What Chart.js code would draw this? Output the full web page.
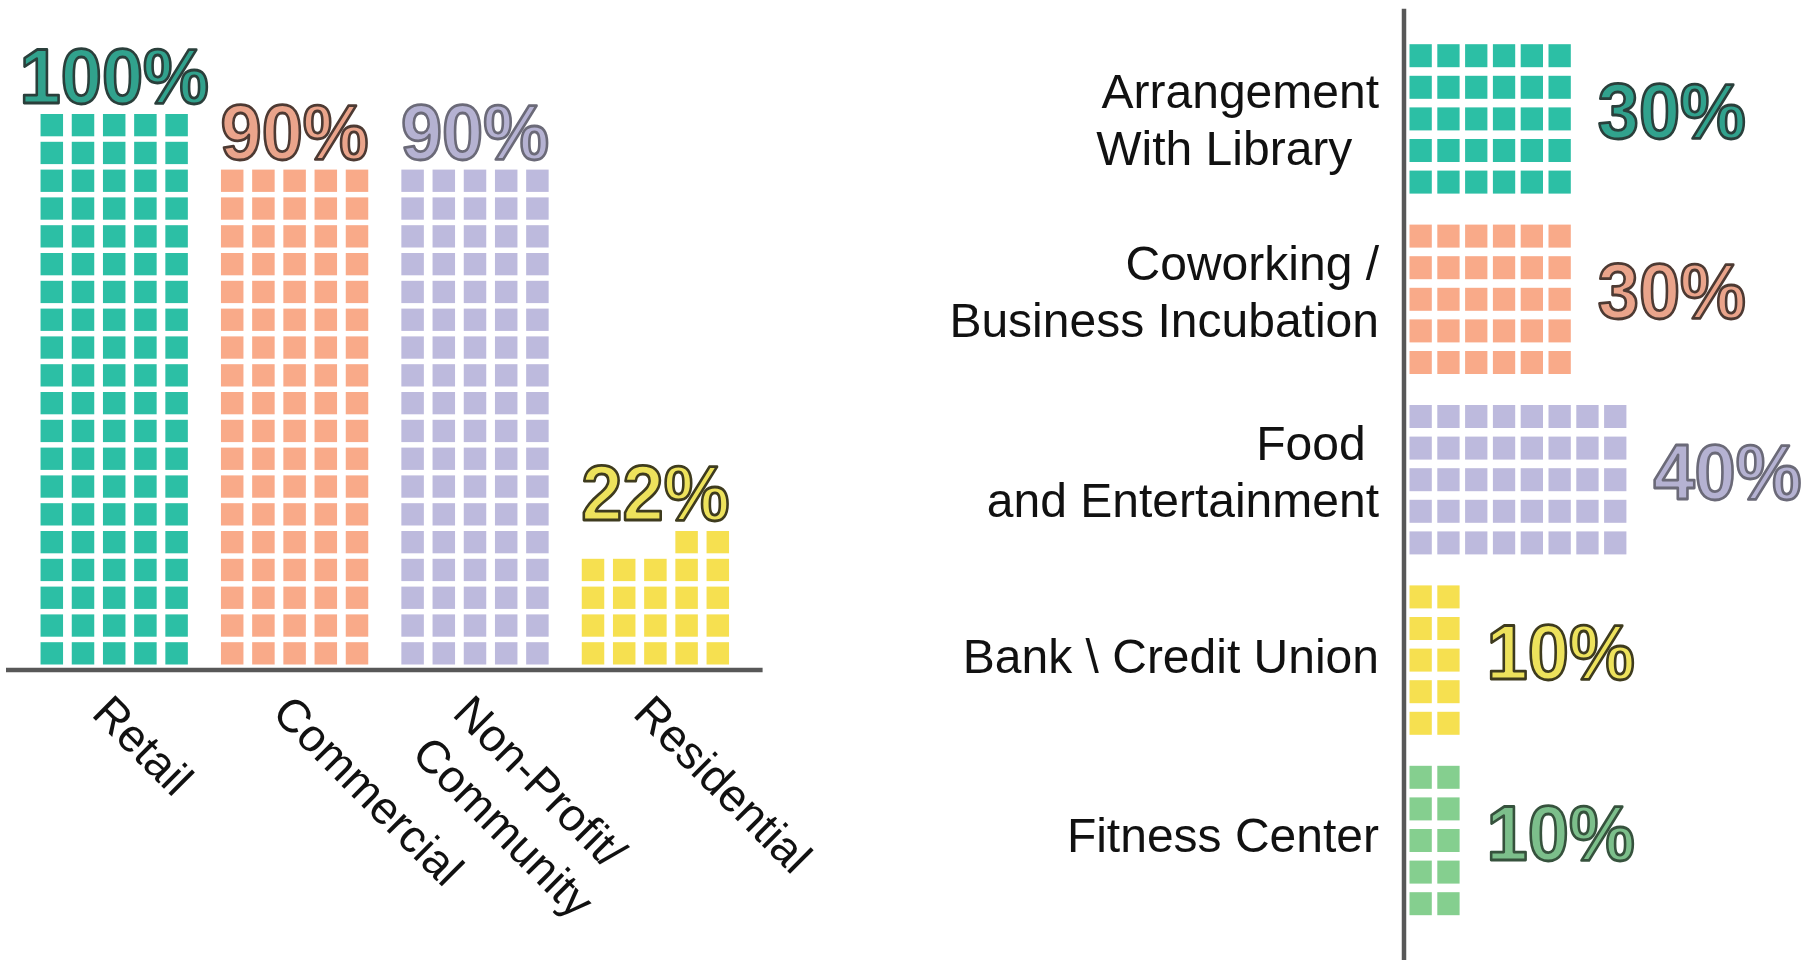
<!DOCTYPE html>
<html>
<head>
<meta charset="utf-8">
<script src="https://cdn.jsdelivr.net/npm/chart.js@4.4.1/dist/chart.umd.min.js"></script>
<style>
  html, body { margin: 0; padding: 0; background: #ffffff; width: 1818px; height: 960px; overflow: hidden; }
  canvas { position: absolute; top: 0; }
  #useChart { left: 0; }
  #amenityChart { left: 900px; }
</style>
</head>
<body>
<canvas id="useChart" width="900" height="960"></canvas>
<canvas id="amenityChart" width="918" height="960"></canvas>
<script>
// ---------------- data ----------------
const useCategories = ['Retail', 'Commercial', ['Non-Profit/', 'Community'], 'Residential'];
const useValues = [100, 90, 90, 22];
const useColors = ['#2cbfa5', '#f9aa89', '#bdbadd', '#f6e050'];
const useLabelFill = ['#31a28d', '#eaa48b', '#b5b2d2', '#ede25c'];
const useLabelStroke = ['#2a3f3b', '#4d3a33', '#6b6a78', '#3e3b1e'];

const amenityCategories = [['Arrangement', 'With Library  '], ['Coworking /', 'Business Incubation'], ['Food ', 'and Entertainment'], 'Bank \\ Credit Union', 'Fitness Center'];
const amenityValues = [30, 30, 40, 10, 10];
const amenityColors = ['#2cbfa5', '#f9aa89', '#bdbadd', '#f6e050', '#85cf8f'];
const amenityLabelFill = ['#31a28d', '#eaa48b', '#b5b2d2', '#ede25c', '#7cbf8b'];
const amenityLabelStroke = ['#2a3f3b', '#4d3a33', '#6b6a78', '#3e3b1e', '#36523d'];

const waffleWidth = 5;   // squares across each bar
const rowUnits = 5;      // axis units per row of squares (each square = 1%)

// split each percentage into 5 lanes of squares (partial row goes to the far lanes)
function lanes(values, extraAtEnd) {
  const out = [];
  for (let c = 0; c < waffleWidth; c++) {
    out.push(values.map(v => {
      const full = Math.floor(v / waffleWidth);
      const rem = v % waffleWidth;
      const extra = extraAtEnd ? (c >= waffleWidth - rem ? 1 : 0) : (c < rem ? 1 : 0);
      return (full + extra) * rowUnits;
    }));
  }
  return out;
}

const FONT = '"Liberation Sans", Arial, Helvetica, sans-serif';

function outlinedText(ctx, text, x, y, align, fill, stroke) {
  ctx.save();
  ctx.translate(x, y);
  ctx.scale(1, 1.06);
  ctx.font = 'bold 74px ' + FONT;
  ctx.textAlign = align;
  ctx.textBaseline = 'alphabetic';
  ctx.lineJoin = 'round';
  ctx.fillStyle = fill;
  ctx.fillText(text, 0, 0);
  ctx.strokeStyle = stroke;
  ctx.lineWidth = 2.6;
  ctx.strokeText(text, 0, 0);
  ctx.restore();
}

function wafflePlugin(horizontal, colors, gap) {
  return {
    id: 'waffleCells',
    afterDatasetsDraw(chart) {
      const ctx = chart.ctx;
      const vScale = horizontal ? chart.scales.x : chart.scales.y;
      ctx.save();
      chart.data.datasets.forEach((ds, d) => {
        const meta = chart.getDatasetMeta(d);
        meta.data.forEach((el, i) => {
          const p = el.getProps(['x', 'y', 'width', 'height'], true);
          const n = Math.round(ds.data[i] / rowUnits);
          ctx.fillStyle = colors[i];
          for (let k = 0; k < n; k++) {
            const p0 = vScale.getPixelForValue(k * rowUnits);
            const p1 = vScale.getPixelForValue((k + 1) * rowUnits);
            if (horizontal) {
              ctx.fillRect(p0 + gap, p.y - p.height / 2, p1 - p0 - gap, p.height);
            } else {
              ctx.fillRect(p.x - p.width / 2, p1, p.width, p0 - gap - p1);
            }
          }
        });
      });
      ctx.restore();
    }
  };
}

const AXIS_COLOR = '#585858';

// ---------------- left chart: building uses ----------------
const useLanes = lanes(useValues, true);
new Chart(document.getElementById('useChart'), {
  type: 'bar',
  data: {
    labels: useCategories,
    datasets: useLanes.map(d => ({
      data: d, backgroundColor: 'rgba(0,0,0,0)', borderWidth: 0,
      categoryPercentage: 0.8647, barPercentage: 0.721
    }))
  },
  options: {
    responsive: false, animation: false, events: [],
    layout: { padding: { left: 24, right: 154.4, top: 114, bottom: 290 } },
    plugins: { legend: { display: false }, tooltip: { enabled: false } },
    scales: {
      x: { type: 'category', display: false },
      y: { type: 'linear', min: 0, max: 100, display: false }
    }
  },
  plugins: [
    wafflePlugin(false, useColors, 5.5),
    {
      id: 'useDecor',
      afterDraw(chart) {
        const ctx = chart.ctx, xs = chart.scales.x, ys = chart.scales.y, ca = chart.chartArea;
        const y0 = ys.getPixelForValue(0);
        ctx.save();
        ctx.strokeStyle = AXIS_COLOR; ctx.lineWidth = 4.5;
        ctx.beginPath(); ctx.moveTo(ca.left - 18, y0); ctx.lineTo(ca.right + 17, y0); ctx.stroke();

        ctx.font = '46px ' + FONT;
        ctx.fillStyle = '#111111';
        ctx.textAlign = 'left';
        ctx.textBaseline = 'alphabetic';
        useCategories.forEach((lab, i) => {
          const x = xs.getPixelForValue(i);
          const lines = Array.isArray(lab) ? lab : [lab];
          ctx.save();
          ctx.translate(x - 24, y0 + 45);
          ctx.rotate(Math.PI / 4);
          lines.forEach((t, j) => ctx.fillText(t, 0, j * 58));
          ctx.restore();
        });

        useValues.forEach((v, i) => {
          const x = xs.getPixelForValue(i);
          const top = Math.max(...useLanes.map(l => l[i]));
          outlinedText(ctx, v + '%', x, ys.getPixelForValue(top) - 11, 'center', useLabelFill[i], useLabelStroke[i]);
        });
        ctx.restore();
      }
    }
  ]
});

// ---------------- right chart: amenities ----------------
const amenityLanes = lanes(amenityValues, false);
const amenityLabelShift = [1, -8, -8, -4, -6];   // small vertical nudges of the text labels (px)
new Chart(document.getElementById('amenityChart'), {
  type: 'bar',
  data: {
    labels: amenityCategories,
    datasets: amenityLanes.map(d => ({
      data: d, backgroundColor: 'rgba(0,0,0,0)', borderWidth: 0,
      categoryPercentage: 0.8758, barPercentage: 0.728
    }))
  },
  options: {
    indexAxis: 'y',
    responsive: false, animation: false, events: [],
    layout: { padding: { left: 504, right: 24.8, top: 28.7, bottom: 29.3 } },
    plugins: { legend: { display: false }, tooltip: { enabled: false } },
    scales: {
      x: { type: 'linear', min: 0, max: 70, display: false },
      y: { type: 'category', display: false }
    }
  },
  plugins: [
    wafflePlugin(true, amenityColors, 5.5),
    {
      id: 'amenityDecor',
      afterDraw(chart) {
        const ctx = chart.ctx, xs = chart.scales.x, ys = chart.scales.y, ca = chart.chartArea;
        const x0 = xs.getPixelForValue(0);
        ctx.save();
        ctx.strokeStyle = AXIS_COLOR; ctx.lineWidth = 4.5;
        ctx.beginPath(); ctx.moveTo(x0, ca.top - 20); ctx.lineTo(x0, chart.height); ctx.stroke();

        ctx.font = '48px ' + FONT;
        ctx.fillStyle = '#111111';
        ctx.textAlign = 'right';
        ctx.textBaseline = 'alphabetic';
        amenityCategories.forEach((lab, i) => {
          const c = ys.getPixelForValue(i) + amenityLabelShift[i];
          const lines = Array.isArray(lab) ? lab : [lab];
          lines.forEach((t, j) => {
            const lc = c + (j - (lines.length - 1) / 2) * 57;
            ctx.fillText(t, x0 - 25, lc + 17);
          });
        });

        amenityValues.forEach((v, i) => {
          const c = ys.getPixelForValue(i);
          outlinedText(ctx, v + '%', xs.getPixelForValue(v) + 27, c + 19, 'left', amenityLabelFill[i], amenityLabelStroke[i]);
        });
        ctx.restore();
      }
    }
  ]
});
</script>
</body>
</html>
